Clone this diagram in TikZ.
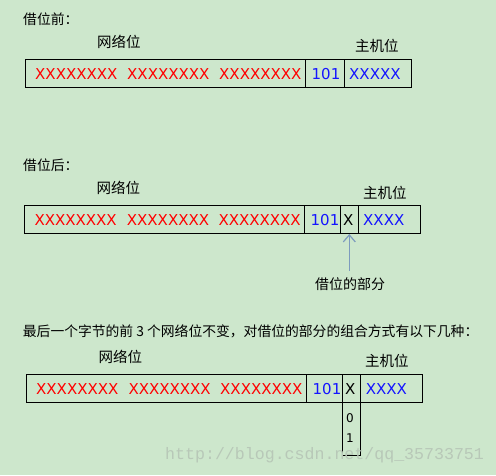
\documentclass[tikz,border=0pt]{standalone}
\usepackage{fontspec}
\setmainfont{DejaVu Sans}
\newfontfamily\cjk{Noto Sans CJK SC}
\newfontfamily\wmfont{Liberation Mono}
\usetikzlibrary{arrows.meta}
\definecolor{bg}{RGB}{205,231,204}
\definecolor{xred}{RGB}{255,0,0}
\definecolor{xblue}{RGB}{20,20,255}
\definecolor{arrowc}{RGB}{125,155,190}
\definecolor{wm}{RGB}{184,200,184}
\begin{document}
\begin{tikzpicture}[x=1pt,y=-1pt,
  cn/.style={font=\cjk\fontsize{13.8}{15}\selectfont, inner sep=0, anchor=west},
  lbl/.style={font=\cjk\fontsize{14.5}{16}\selectfont, inner sep=0, anchor=west},
  xr/.style={font=\fontsize{15}{16}\selectfont, text=xred, inner sep=0, anchor=base west},
  xb/.style={font=\fontsize{15}{16}\selectfont, text=xblue, inner sep=0, anchor=base west},
  xk/.style={font=\fontsize{15}{16}\selectfont, text=black, inner sep=0, anchor=base west},
  cellbox/.style={draw=black, line width=1pt},
  small/.style={font=\fontsize{12}{13}\selectfont, inner sep=0, anchor=center}]
\fill[bg] (0,0) rectangle (496,475);
\useasboundingbox (0,0) rectangle (496,475);

% ---------- section 1 ----------
\node[cn] (t1) at (23,19.5) {借位前：};
\node[lbl] (n1) at (97,41.5) {网络位};
\node[lbl] (h1) at (355,46) {主机位};
\draw[cellbox] (25.3,59.3) rectangle (411.7,87.3);
\draw[cellbox] (305.7,59.3) -- (305.7,87.3);
\draw[cellbox] (344.3,59.3) -- (344.3,87.3);
\node[xr] (a1) at (35,79) {XXXXXXXX};
\node[xr] (a2) at (127,79) {XXXXXXXX};
\node[xr] (a3) at (219,79) {XXXXXXXX};
\node[xb] (a4) at (311.5,79) {101};
\node[xb] (a5) at (349,79) {XXXXX};

% ---------- section 2 ----------
\node[cn] (t2) at (23,165.5) {借位后：};
\node[lbl] (n2) at (96.5,188) {网络位};
\node[lbl] (h2) at (363,193) {主机位};
\draw[cellbox] (24.3,205) rectangle (420.7,233.3);
\draw[cellbox] (304.3,205) -- (304.3,233.3);
\draw[cellbox] (340.3,205) -- (340.3,233.3);
\draw[cellbox] (358.3,205) -- (358.3,233.3);
\node[xr] (b1) at (34.3,225) {XXXXXXXX};
\node[xr] (b2) at (126.7,225) {XXXXXXXX};
\node[xr] (b3) at (218.3,225) {XXXXXXXX};
\node[xb] (b4) at (310.5,225) {101};
\node[xk] (b5) at (343,225) {X};
\node[xb] (b6) at (363,225) {XXXX};
\coordinate (tip) at (349.3,234);
\coordinate (tail) at (349.3,270.7);
\node[lbl, font=\cjk\fontsize{14}{16}\selectfont] (bp) at (315,284) {借位的部分};
\draw[arrowc, line width=1.2pt, -{Straight Barb[length=7pt,width=12pt]}] (tail) -- (tip);

% ---------- section 3 ----------
\node[cn] (t3) at (22.7,331.7) {最后一个字节的前 3 个网络位不变，对借位的部分的组合方式有以下几种：};
\node[lbl] (n3) at (98.3,357) {网络位};
\node[lbl] (h3) at (365,361) {主机位};
\draw[cellbox] (26.7,374.3) rectangle (422.7,402.3);
\draw[cellbox] (306.7,374.3) -- (306.7,402.3);
\draw[cellbox] (342.7,374.3) -- (342.7,402.3);
\draw[cellbox] (360.7,374.3) -- (360.7,402.3);
\draw[cellbox] (342.7,402.3) rectangle (360.7,455.7);
\node[xr] (c1) at (36,394) {XXXXXXXX};
\node[xr] (c2) at (128.3,394) {XXXXXXXX};
\node[xr] (c3) at (220,394) {XXXXXXXX};
\node[xb] (c4) at (312.5,394) {101};
\node[xk] (c5) at (345,394) {X};
\node[xb] (c6) at (365.7,394) {XXXX};
\node[small] (z0) at (350,418.3) {0};
\node[small] (z1) at (350,437.7) {1};

% watermark
\node[font=\wmfont\fontsize{16.6}{18}\selectfont, text=wm, inner sep=0, anchor=west] (wmk) at (165,455) {http://blog.csdn.net/qq\_35733751};
\end{tikzpicture}
\end{document}
